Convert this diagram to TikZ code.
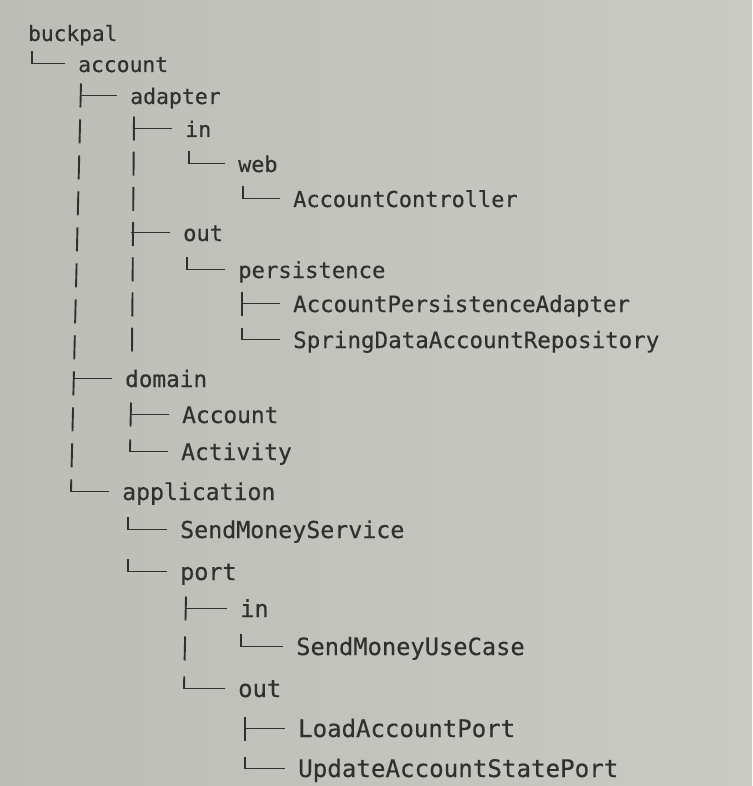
\documentclass[tikz,border=0pt]{standalone}
\usepackage{fontspec}
\usepackage{tikz}
\usetikzlibrary{calc}
\usepackage{xcolor}
\newfontfamily\treefont[FakeBold=0.4]{DejaVu Sans Mono}
\definecolor{ink}{RGB}{48,48,46}
\definecolor{paperL}{RGB}{188,189,183}
\definecolor{paperR}{RGB}{202,202,197}

\begin{document}
\begin{tikzpicture}[x=1pt, y=-1pt,
    item/.style={anchor=base west, inner sep=0pt, text=ink, font=\treefont\fontsize{#1pt}{#1pt}\selectfont},
    trunk/.style={draw=ink, line width=1.9pt},
    twig/.style={draw=ink, line width=1.9pt, line cap=rect}]
    % Papier
    \shade[left color=paperL, right color=paperR] (0,0) rectangle (752,786);
    \useasboundingbox (0,0) rectangle (752,786);

    % Entries (name/row/x/baseline/text)
    \foreach \nm/\row/\xx/\yy/\txt in {
        buckpal/0/28/41/buckpal,
        account/1/78/72/account,
        adapter/2/130/104/adapter,
        adIn/3/185/137/in,
        web/4/238/172/web,
        ctrl/5/293/207/AccountController,
        adOut/6/183/241/out,
        persist/7/238/278/persistence,
        persAdapter/8/293/312/AccountPersistenceAdapter,
        springRepo/9/293/348/SpringDataAccountRepository,
        domain/10/125/387/domain,
        acct/11/182/423/Account,
        activity/12/181/460/Activity,
        application/13/122/500/application,
        sendSvc/14/180/538/SendMoneyService,
        port/15/180/580/port,
        portIn/16/240/617/in,
        useCase/17/296/655/SendMoneyUseCase,
        portOut/18/238/697/out,
        loadPort/19/298/737/LoadAccountPort,
        updatePort/20/298/777/UpdateAccountStatePort} {
        \pgfmathsetmacro\fs{(12.75+0.09*\row)/0.602}
        \node[item=\fs] (\nm) at (\xx,\yy) {\txt};
    }

    % Columns (one dash per line)
    \coordinate (adCol) at ([shift={(-51,0)}]adOut.base west);
    \coordinate (adEnd) at ([shift={(0,3.5)}]springRepo.base west);
    \draw[trunk, dash pattern=on 24pt off 12pt] ([shift={(-49,-20.5)}]adapter.base west) -- ([shift={(-51,-8.5)}]application.base west);
    \draw[trunk, dash pattern=on 24pt off 11.2pt] ([shift={(-51,-20.5)}]adIn.base west) -- (adCol |- adEnd);
    \draw[trunk, dash pattern=on 24pt off 12pt] ([shift={(-51,-20.5)}]persAdapter.base west) -- ([shift={(-51,-8.5)}]springRepo.base west);
    \draw[trunk, dash pattern=on 24pt off 13pt] ([shift={(-51,-20.5)}]acct.base west) -- ([shift={(-51,-8.5)}]activity.base west);
    \draw[trunk, dash pattern=on 24pt off 16pt] ([shift={(-54,-20.5)}]portIn.base west) -- ([shift={(-54,-8.5)}]portOut.base west);
    \draw[trunk, dash pattern=on 24pt off 16pt] ([shift={(-53,-20.5)}]loadPort.base west) -- ([shift={(-53,-8.5)}]updatePort.base west);

    % Branches
    \foreach \c/\o in {adapter/49, domain/51, application/51, adIn/51, adOut/51, persAdapter/51, springRepo/51,
                    acct/51, activity/51, portIn/54, portOut/54, loadPort/53, updatePort/53} {
        \draw[twig] ([shift={(-\o,-8.5)}]\c.base west) -- ([shift={(-14,-8.5)}]\c.base west);
    }

    % Single corners
    \foreach \c/\o in {account/46, web/49, ctrl/50, persist/51, sendSvc/52, port/52, useCase/55} {
        \draw[twig] ([shift={(-\o,-20.5)}]\c.base west) |- ([shift={(-14,-8.5)}]\c.base west);
    }
\end{tikzpicture}
\end{document}
